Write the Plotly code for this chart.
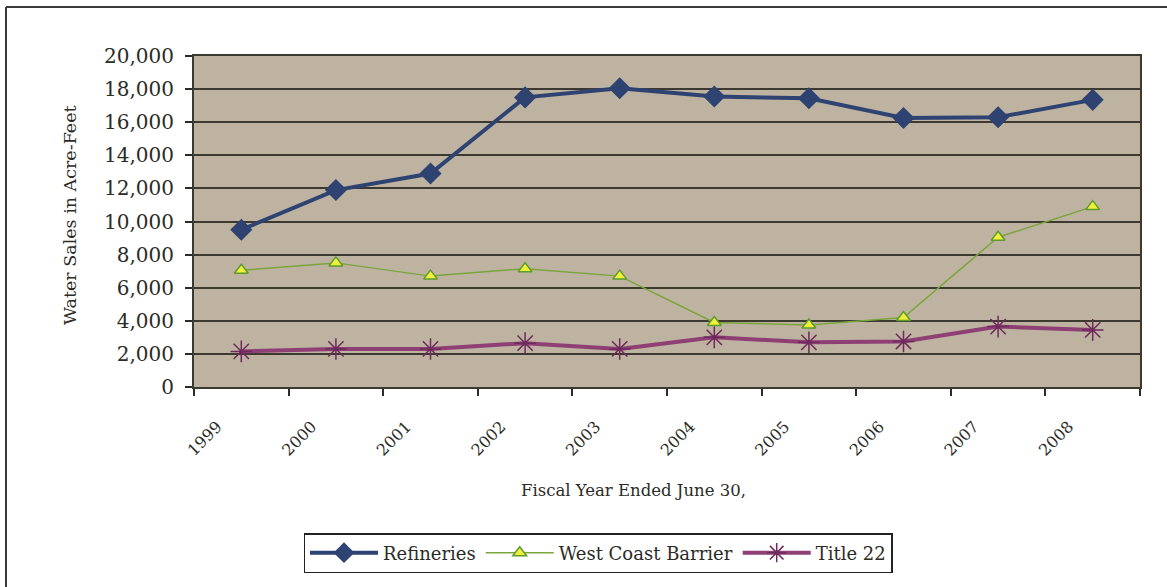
import plotly.graph_objects as go

years = ["1999", "2000", "2001", "2002", "2003", "2004", "2005", "2006", "2007", "2008"]
refineries = [9500, 11900, 12900, 17500, 18050, 17550, 17450, 16250, 16300, 17350]
west_coast_barrier = [7050, 7500, 6700, 7150, 6700, 3900, 3750, 4200, 9050, 10900]
title_22 = [2150, 2300, 2300, 2650, 2300, 3000, 2700, 2750, 3650, 3450]

W, H = 1167, 587
L, R, T, B = 194, 27, 56, 200
PW, PH = W - L - R, H - T - B

def px_x(x):
    return (x - L) / PW

def px_y(y):
    return (H - B - y) / PH

FONT = "DejaVu Serif"
TXT = "#2b2b26"

fig = go.Figure()
fig.add_trace(go.Scatter(
    x=years, y=refineries, name="Refineries", mode="lines+markers",
    line=dict(color="#2E4372", width=4),
    marker=dict(symbol="diamond", size=17, color="#2E4372"),
))
fig.add_trace(go.Scatter(
    x=years, y=west_coast_barrier, name="West Coast Barrier", mode="lines+markers",
    line=dict(color="#7AA53C", width=1.5),
    marker=dict(symbol="triangle-up", size=12, color="#EEF03A",
                line=dict(color="#5E9A2E", width=1.5)),
))
fig.add_trace(go.Scatter(
    x=years, y=title_22, name="Title 22", mode="lines+markers",
    line=dict(color="#8E3F74", width=4),
    marker=dict(symbol="asterisk-open", size=18, color="#6E2A5C",
                line=dict(color="#6E2A5C", width=1.5)),
))

fig.update_layout(
    width=W, height=H,
    margin=dict(l=L, r=R, t=T, b=B),
    paper_bgcolor="white",
    plot_bgcolor="#BEB3A0",
    font=dict(family=FONT, color=TXT, size=17),
    showlegend=True,
    legend=dict(
        orientation="h", x=px_x(598), xanchor="center", y=px_y(533), yanchor="top",
        bgcolor="white", bordercolor="#222222", borderwidth=1.5,
        font=dict(family=FONT, size=18, color=TXT),
        itemwidth=68, tracegroupgap=0,
    ),
    xaxis=dict(
        type="category", range=[-0.5, 9.5],
        tickson="boundaries", ticks="outside", ticklen=7, tickwidth=2, tickcolor="#2b2b26",
        showline=True, linecolor="#3a3a30", linewidth=2, mirror=True,
        showgrid=False, tickangle=-45,
        tickfont=dict(family=FONT, size=16, color=TXT),
        ticklabelshift=-24, ticklabelstandoff=22,
    ),
    yaxis=dict(
        range=[0, 20000], dtick=2000, tickformat=",",
        ticks="outside", ticklen=7, tickwidth=2, tickcolor="#2b2b26",
        showline=True, linecolor="#3a3a30", linewidth=2, mirror=True,
        showgrid=True, gridcolor="#3c3a30", gridwidth=2,
        tickfont=dict(family=FONT, size=20, color=TXT),
        ticklabelstandoff=7,
        zeroline=False,
    ),
    annotations=[
        dict(text="Fiscal Year Ended June 30,", xref="paper", yref="paper",
             x=px_x(633), y=px_y(490), xanchor="center", yanchor="middle",
             showarrow=False, font=dict(family=FONT, size=16.5, color=TXT)),
        dict(text="Water Sales in Acre-Feet", xref="paper", yref="paper",
             x=px_x(70), y=px_y(215), xanchor="center", yanchor="middle",
             textangle=-90, showarrow=False, font=dict(family=FONT, size=17.5, color=TXT)),
    ],
    shapes=[
        dict(type="line", xref="paper", yref="paper",
             x0=px_x(6), x1=px_x(6), y0=px_y(7), y1=px_y(H + 5),
             line=dict(color="#3a3a3a", width=2)),
        dict(type="line", xref="paper", yref="paper",
             x0=px_x(6), x1=px_x(W), y0=px_y(7), y1=px_y(7),
             line=dict(color="#3a3a3a", width=2)),
    ],
)

fig.write_html("out.html", config={"displayModeBar": False},
               post_script="document.body.style.margin='0';")
